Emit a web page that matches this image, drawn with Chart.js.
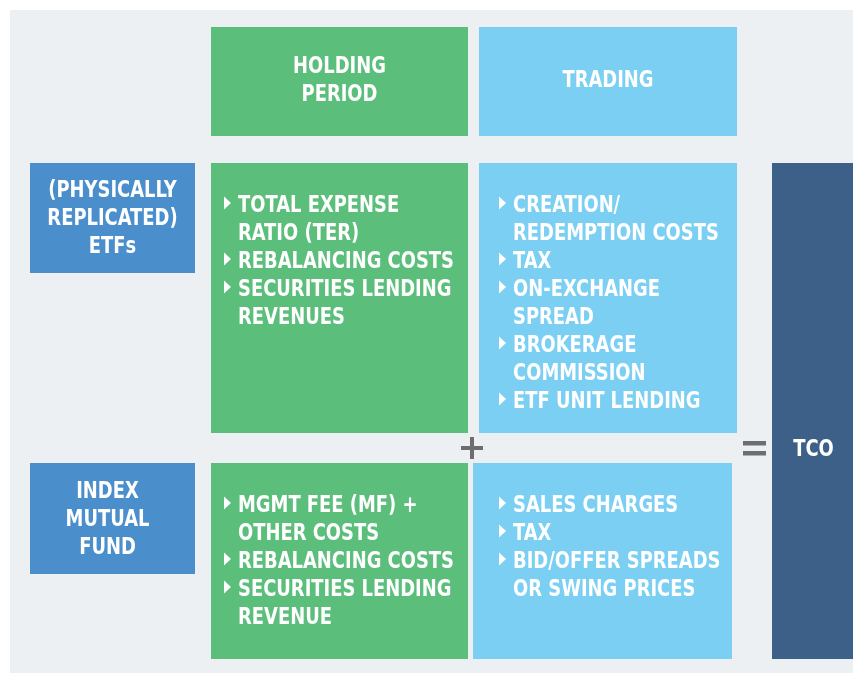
<!DOCTYPE html>
<html>
<head>
<meta charset="utf-8">
<script src="https://cdn.jsdelivr.net/npm/chart.js@4/dist/chart.umd.min.js"></script>
<style>
  html, body { margin: 0; padding: 0; background: #ffffff; }
  #wrap { width: 853px; height: 673px; position: relative; }
</style>
</head>
<body>
<div id="wrap"><canvas id="c"></canvas></div>
<script>
// ---- diagram content ----
const columnHeaders = [['HOLDING', 'PERIOD'], ['TRADING']];
const rowLabels = [['(PHYSICALLY', 'REPLICATED)', 'ETFs'], ['INDEX', 'MUTUAL', 'FUND']];
const etfHolding = [['TOTAL EXPENSE', 'RATIO (TER)'], ['REBALANCING COSTS'], ['SECURITIES LENDING', 'REVENUES']];
const etfTrading = [['CREATION/', 'REDEMPTION COSTS'], ['TAX'], ['ON-EXCHANGE', 'SPREAD'], ['BROKERAGE', 'COMMISSION'], ['ETF UNIT LENDING']];
const fundHolding = [['MGMT FEE (MF) +', 'OTHER COSTS'], ['REBALANCING COSTS'], ['SECURITIES LENDING', 'REVENUE']];
const fundTrading = [['SALES CHARGES'], ['TAX'], ['BID/OFFER SPREADS', 'OR SWING PRICES']];
const resultLabel = 'TCO';
const operators = ['+', '='];

const FONT = 'bold 23.5px "DejaVu Sans Condensed", "DejaVu Sans", sans-serif';
const colors = {
  bg: '#ECF0F3', green: '#5BBE7B', light: '#7ACFF3', label: '#4A8ECB', tco: '#3D6089', op: '#6E6E6E', text: '#FFFFFF'
};

const diagramPlugin = {
  id: 'diagram',
  beforeDatasetsDraw(chart) {
    const ctx = chart.ctx;
    const sx = chart.scales.x, sy = chart.scales.y;
    const X = v => sx.getPixelForValue(v);
    const Y = v => sy.getPixelForValue(v);
    const rect = (x0, y0, x1, y1, c) => {
      ctx.fillStyle = c;
      const px0 = X(x0), py0 = Y(y0), px1 = X(x1), py1 = Y(y1);
      ctx.fillRect(px0, py0, px1 - px0, py1 - py0);
    };
    ctx.save();
    ctx.font = FONT;
    // horizontal condensing so the typeface matches the narrow original
    const squeeze = 216 / ctx.measureText('REBALANCING COSTS').width;
    const cap = 8.5;
    const text = (t, x, yc, align) => {
      ctx.save();
      ctx.fillStyle = colors.text;
      ctx.textAlign = align;
      ctx.textBaseline = 'alphabetic';
      ctx.translate(X(x), Y(yc) + cap);
      ctx.scale(squeeze, 1);
      ctx.fillText(t, 0, 0);
      ctx.restore();
    };

    // background panel
    rect(10, 10, 853, 673, colors.bg);

    // layout (diagram units)
    const colX = [[211, 468], [479, 737]];
    const colXBottom = [[211, 468], [473, 732]];
    const textOff = [[13, 27], [20, 34]];
    const headY = [27, 136];
    const rowY = [[163, 433], [463, 659]];
    const labelBox = [[30, 195], [[163, 273], [463, 574]]];
    const fills = [colors.green, colors.light];

    // column headers
    columnHeaders.forEach((lines, i) => {
      rect(colX[i][0], headY[0], colX[i][1], headY[1], fills[i]);
      const cx = (colX[i][0] + colX[i][1]) / 2;
      const cy = (headY[0] + headY[1]) / 2 - 3.5;
      lines.forEach((t, k) => text(t, cx, cy + (k - (lines.length - 1) / 2) * 28, 'center'));
    });

    // row labels
    rowLabels.forEach((lines, r) => {
      const [x0, x1] = labelBox[0];
      const [y0, y1] = labelBox[1][r];
      rect(x0, y0, x1, y1, colors.label);
      const cx = (x0 + x1) / 2 - (r === 1 ? 5 : 0);
      const cy = (y0 + y1) / 2 - 1.5;
      lines.forEach((t, k) => text(t, cx, cy + (k - (lines.length - 1) / 2) * 28, 'center'));
    });

    // cells
    const cells = [[etfHolding, etfTrading], [fundHolding, fundTrading]];
    cells.forEach((row, r) => {
      row.forEach((items, c) => {
        const bx0 = r === 0 ? colX[c] : colXBottom[c];
        const [y0, y1] = rowY[r];
        rect(bx0[0], y0, bx0[1], y1, fills[c]);
        let line = 0;
        const bx = colX[c][0] + textOff[c][0];
        const tx = colX[c][0] + textOff[c][1];
        items.forEach(item => {
          item.forEach((t, k) => {
            const yc = y0 + 40 + line * 28;
            if (k === 0) {
              ctx.fillStyle = colors.text;
              ctx.beginPath();
              ctx.moveTo(X(bx), Y(yc - 6.5));
              ctx.lineTo(X(bx + 7), Y(yc));
              ctx.lineTo(X(bx), Y(yc + 6.5));
              ctx.closePath();
              ctx.fill();
            }
            text(t, tx, yc, 'left');
            line++;
          });
        });
      });
    });

    // result
    rect(772, 163, 853, 659, colors.tco);
    text(resultLabel, 813.5, 447, 'center');

    // operators
    if (operators[0] === '+') {
      rect(461, 446, 483, 450, colors.op);
      rect(470, 437, 474, 459, colors.op);
    }
    if (operators[1] === '=') {
      rect(743, 441, 766, 445.5, colors.op);
      rect(743, 451, 766, 455.5, colors.op);
    }
    ctx.restore();
  }
};

new Chart(document.getElementById('c'), {
  type: 'scatter',
  data: { datasets: [{ data: [], showLine: false }] },
  options: {
    responsive: true,
    maintainAspectRatio: false,
    animation: false,
    layout: { padding: 0 },
    plugins: { legend: { display: false }, tooltip: { enabled: false } },
    scales: {
      x: { type: 'linear', min: 0, max: 853, display: false },
      y: { type: 'linear', min: 0, max: 673, reverse: true, display: false }
    }
  },
  plugins: [diagramPlugin]
});
</script>
</body>
</html>
